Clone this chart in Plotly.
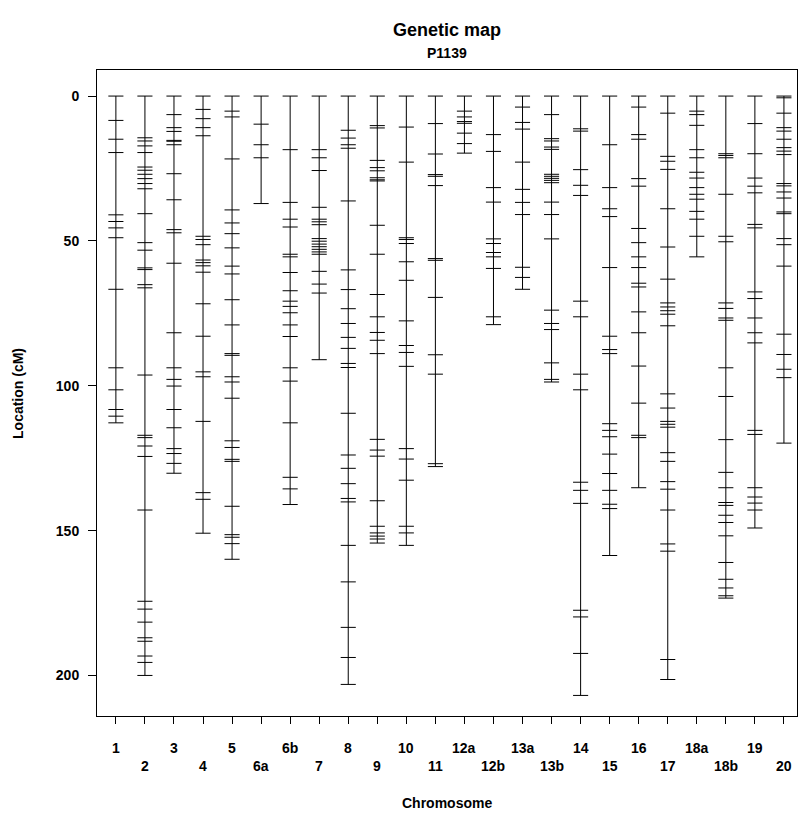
import plotly.graph_objects as go

# Marker positions (cM) per linkage group
chr_1 = [0, 8.4, 14.9, 19.5, 41.0, 43.3, 45.5, 48.9, 66.7, 93.8, 101.4, 108.2, 110.5, 112.8]
chr_2 = [0, 14.4, 15.5, 17.2, 19.5, 24.5, 25.6, 27.0, 28.5, 30.2, 32.0, 40.6, 50.6, 53.2, 59.3,
         59.9, 65.1, 66.2, 96.3, 117.1, 117.9, 120.8, 124.4, 142.9, 174.4, 177.1, 181.6, 187.0,
         188.2, 193.3, 195.5, 200.0]
chr_3 = [0, 6.4, 10.9, 12.2, 15.3, 15.6, 16.8, 26.8, 35.8, 46.1, 47.2, 57.7, 81.7, 93.8, 97.8,
         100.1, 108.2, 114.5, 121.7, 123.4, 126.8, 130.2]
chr_4 = [0, 4.6, 7.8, 10.9, 13.7, 48.4, 49.5, 51.3, 56.6, 57.5, 58.6, 60.8, 71.7, 82.9, 95.2,
         96.9, 112.3, 136.9, 139.2, 150.9]
chr_5 = [0, 5.2, 7.2, 21.7, 39.3, 43.8, 47.5, 52.4, 58.7, 61.4, 70.3, 79.0, 88.9, 89.5, 96.9,
         98.7, 104.3, 119.0, 121.3, 125.4, 126.1, 141.6, 151.4, 152.3, 154.5, 159.9]
chr_6a = [0, 9.7, 16.8, 21.3, 37.1]
chr_6b = [0, 18.5, 36.7, 42.5, 45.2, 54.6, 55.5, 60.9, 67.2, 70.8, 72.6, 74.8, 79.0, 83.0, 93.8,
          98.4, 112.8, 131.6, 135.6, 141.0]
chr_7 = [0, 18.5, 21.3, 25.7, 38.4, 42.5, 43.4, 44.4, 49.2, 50.1, 51.1, 52.0, 52.9, 53.8, 54.6,
         60.5, 64.9, 68.0, 91.0]
chr_8 = [0, 11.8, 14.5, 16.8, 18.0, 36.2, 60.0, 66.8, 73.4, 78.5, 83.3, 87.1, 92.3, 93.7, 109.5,
         123.9, 128.5, 133.8, 138.9, 140.1, 155.1, 167.7, 183.4, 193.8, 203.1]
chr_9 = [0, 10.2, 11.0, 22.2, 24.7, 25.8, 28.2, 28.9, 29.3, 44.6, 54.6, 68.5, 76.2, 81.6, 84.3,
         88.9, 118.5, 122.2, 124.3, 139.7, 148.5, 150.8, 151.9, 152.9, 154.3]
chr_10 = [0, 10.7, 22.8, 48.9, 49.5, 50.9, 57.2, 63.6, 77.6, 86.1, 88.5, 93.3, 121.7, 125.3,
          132.6, 148.5, 150.8, 155.1]
chr_11 = [0, 9.5, 20.0, 27.1, 27.7, 30.9, 56.1, 56.7, 69.5, 89.3, 96.0, 126.9, 127.9]
chr_12a = [0, 5.2, 7.2, 8.8, 9.4, 12.8, 16.4, 19.7]
chr_12b = [0, 13.3, 19.1, 31.6, 36.6, 49.3, 50.9, 54.0, 55.5, 59.5, 76.2, 78.9]
chr_13a = [0, 3.8, 9.1, 11.4, 22.8, 32.2, 36.7, 40.9, 59.1, 62.6, 66.7]
chr_13b = [0, 6.4, 14.7, 15.5, 17.6, 18.4, 27.0, 27.7, 28.4, 29.1, 29.9, 36.6, 40.9, 49.3, 73.9,
           78.5, 80.6, 92.1, 97.8, 98.7]
chr_14 = [0, 11.3, 12.1, 25.4, 30.8, 34.3, 70.8, 76.2, 96.0, 101.4, 133.3, 136.1, 140.6, 177.5,
          179.8, 192.4, 206.9]
chr_15 = [0, 16.8, 31.6, 38.9, 41.6, 59.2, 82.9, 87.5, 88.9, 113.1, 115.4, 117.6, 123.6, 130.3,
          136.1, 140.9, 142.4, 158.6]
chr_16 = [0, 3.8, 13.3, 14.9, 28.5, 31.1, 45.7, 50.6, 55.5, 59.2, 64.6, 65.9, 74.5, 81.7, 93.2,
          106.0, 117.1, 117.9, 135.2]
chr_17 = [0, 5.9, 20.8, 22.5, 25.3, 38.9, 52.1, 63.2, 71.4, 72.8, 74.1, 75.3, 79.3, 102.8, 107.7,
          112.3, 113.3, 114.3, 123.1, 126.1, 133.1, 135.7, 142.9, 154.6, 157.1, 194.5, 201.4]
chr_18a = [0, 5.2, 6.4, 10.1, 18.5, 21.3, 26.3, 28.3, 31.6, 33.9, 35.6, 39.8, 42.5, 48.4, 55.5]
chr_18b = [0, 19.9, 20.5, 21.3, 33.9, 48.4, 50.3, 71.4, 73.3, 76.6, 77.4, 93.8, 103.7, 118.6,
           129.9, 135.2, 140.3, 141.3, 144.7, 147.2, 151.8, 161.0, 166.8, 169.8, 172.5, 173.3]
chr_19 = [0, 9.5, 19.9, 28.3, 31.1, 33.4, 44.3, 45.5, 67.6, 69.9, 76.6, 81.7, 85.2, 115.4, 116.8,
          135.2, 138.4, 140.5, 142.9, 149.1]
chr_20 = [0, 0.6, 5.9, 10.9, 12.1, 14.9, 17.8, 19.0, 20.2, 30.2, 31.0, 33.1, 35.2, 40.0, 40.6,
          49.2, 51.3, 58.7, 82.2, 89.2, 94.3, 97.2, 119.8]

chrom_names = ["1", "2", "3", "4", "5", "6a", "6b", "7", "8", "9", "10", "11", "12a", "12b",
               "13a", "13b", "14", "15", "16", "17", "18a", "18b", "19", "20"]
chrom_markers = [chr_1, chr_2, chr_3, chr_4, chr_5, chr_6a, chr_6b, chr_7, chr_8, chr_9, chr_10,
                 chr_11, chr_12a, chr_12b, chr_13a, chr_13b, chr_14, chr_15, chr_16, chr_17,
                 chr_18a, chr_18b, chr_19, chr_20]
y_ticks = [0, 50, 100, 150, 200]

FONT = "Liberation Sans, Arial, Helvetica, sans-serif"
HALF = 0.26  # half-width of a marker tick, in chromosome-index units

xs, ys = [], []
for i, markers in enumerate(chrom_markers, start=1):
    # chromosome backbone
    xs += [i, i, None]
    ys += [min(markers), max(markers), None]
    # one short horizontal tick per marker
    for m in markers:
        xs += [i - HALF, i + HALF, None]
        ys += [m, m, None]

fig = go.Figure(go.Scatter(x=xs, y=ys, mode="lines",
                           line=dict(color="black", width=1),
                           hoverinfo="skip", showlegend=False))

n = len(chrom_names)
annotations = []
for i, name in enumerate(chrom_names, start=1):
    row = 0 if i % 2 == 1 else 1
    annotations.append(dict(x=i, y=-0.0495 - row * 0.0279, xref="x", yref="paper",
                            text=name, showarrow=False, xanchor="center", yanchor="middle",
                            font=dict(family=FONT, size=14, color="black", weight="bold")))

annotations += [
    dict(x=0.5, y=1.062, xref="paper", yref="paper", text="Genetic map", showarrow=False,
         xanchor="center", yanchor="middle",
         font=dict(family=FONT, size=18, color="black", weight="bold")),
    dict(x=0.5, y=1.026, xref="paper", yref="paper", text="P1139", showarrow=False,
         xanchor="center", yanchor="middle",
         font=dict(family=FONT, size=14, color="black", weight="bold")),
    dict(x=0.5, y=-0.1347, xref="paper", yref="paper", text="Chromosome", showarrow=False,
         xanchor="center", yanchor="middle",
         font=dict(family=FONT, size=14, color="black", weight="bold")),
    dict(x=-0.1129, y=0.5, xref="paper", yref="paper", text="Location (cM)", showarrow=False,
         textangle=-90, xanchor="center", yanchor="middle",
         font=dict(family=FONT, size=14, color="black", weight="bold")),
]

fig.update_layout(
    width=800, height=825,
    margin=dict(l=97, r=3, t=70, b=109),
    paper_bgcolor="white", plot_bgcolor="white",
    annotations=annotations,
    xaxis=dict(range=[0.35, n + 0.45], tickmode="array", tickvals=list(range(1, n + 1)),
               showticklabels=False, ticks="outside", ticklen=7, tickcolor="black",
               showgrid=False, zeroline=False, showline=True, linecolor="black",
               linewidth=1, mirror=True),
    yaxis=dict(range=[214, -9], tickmode="array", tickvals=y_ticks,
               ticktext=[str(v) for v in y_ticks], ticks="outside", ticklen=8,
               ticklabelstandoff=6,
               tickcolor="black", showgrid=False, zeroline=False, showline=True,
               linecolor="black", linewidth=1, mirror=True,
               tickfont=dict(family=FONT, size=14, color="black", weight="bold")),
)

fig.write_html("out.html")
